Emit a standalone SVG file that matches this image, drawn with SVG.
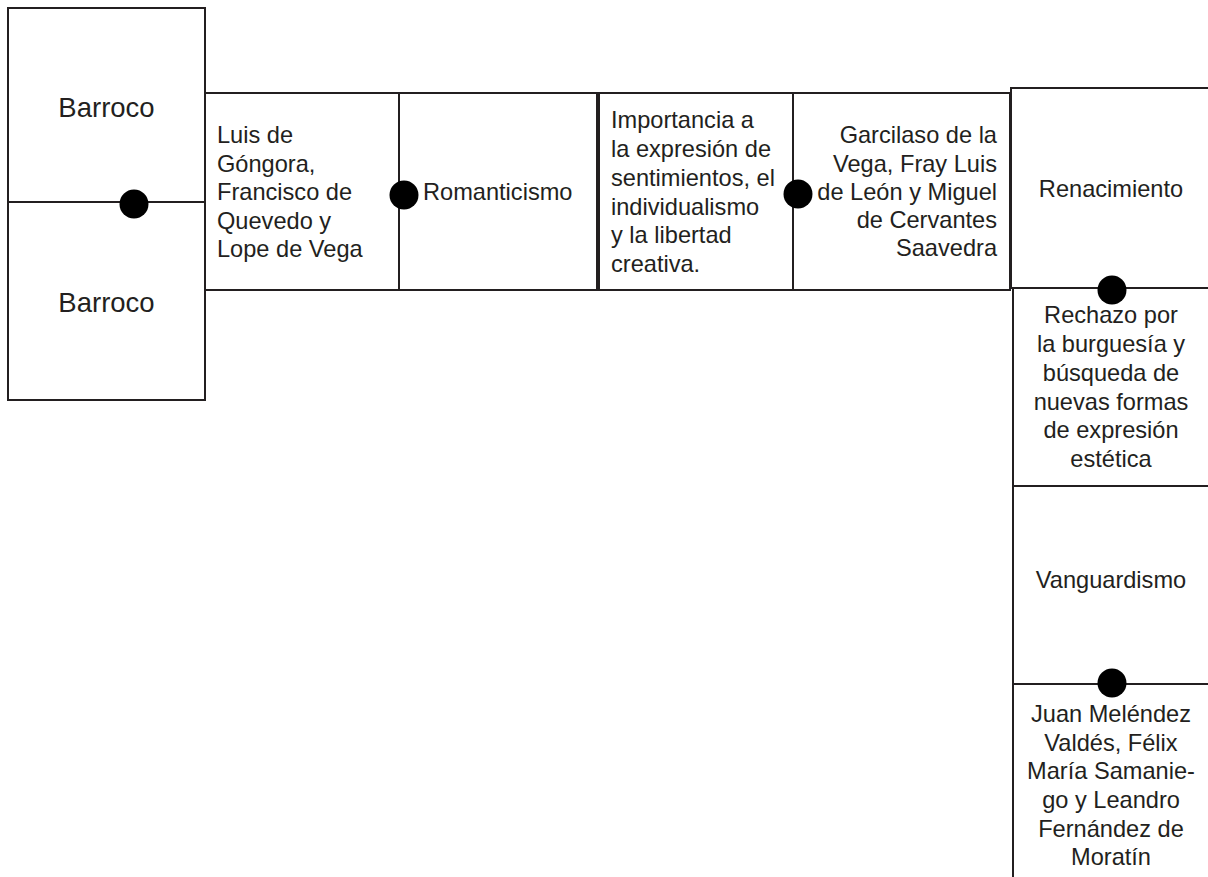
<svg xmlns="http://www.w3.org/2000/svg" width="1208" height="877" viewBox="0 0 1208 877">
<style>
.box{fill:#fff;stroke:#231f20;stroke-width:2}
.t{font-family:"Liberation Sans",Arial,sans-serif;font-size:23.6px;fill:#231f20}
.big{font-size:27.5px}
.c{text-anchor:middle}
.r{text-anchor:end}
.dot{fill:#000}
</style>
<rect width="1208" height="877" fill="#fff"/>
<g id="barroco1">
<rect class="box" x="8" y="8" width="197" height="194"/>
<text class="t big c" x="106.5" y="117">Barroco</text>
</g>
<g id="barroco2">
<rect class="box" x="8" y="202" width="197" height="198"/>
<text class="t big c" x="106.5" y="312">Barroco</text>
</g>
<g id="autores-barroco">
<rect class="box" x="205" y="93" width="194" height="197"/>
<text class="t" x="217" y="143">Luis de</text>
<text class="t" x="217" y="171.5">Góngora,</text>
<text class="t" x="217" y="200">Francisco de</text>
<text class="t" x="217" y="228.5">Quevedo y</text>
<text class="t" x="217" y="257">Lope de Vega</text>
</g>
<g id="romanticismo">
<rect class="box" x="399" y="93" width="198" height="197"/>
<text class="t" x="423" y="200">Romanticismo</text>
</g>
<g id="importancia">
<rect class="box" x="599" y="93" width="194" height="197"/>
<text class="t" x="611" y="128">Importancia a</text>
<text class="t" x="611" y="157">la expresión de</text>
<text class="t" x="611" y="186">sentimientos, el</text>
<text class="t" x="611" y="214.5">individualismo</text>
<text class="t" x="611" y="243">y la libertad</text>
<text class="t" x="611" y="272">creativa.</text>
</g>
<g id="autores-renacimiento">
<rect class="box" x="793" y="93" width="217" height="197"/>
<text class="t r" x="997" y="143">Garcilaso de la</text>
<text class="t r" x="997" y="171.5">Vega, Fray Luis</text>
<text class="t r" x="997" y="200">de León y Miguel</text>
<text class="t r" x="997" y="228">de Cervantes</text>
<text class="t r" x="997" y="256">Saavedra</text>
</g>
<g id="renacimiento">
<rect class="box" x="1011" y="88" width="210" height="200"/>
<text class="t c" x="1111" y="197">Renacimiento</text>
</g>
<g id="rechazo">
<rect class="box" x="1013" y="288" width="210" height="198"/>
<text class="t c" x="1111" y="323">Rechazo por</text>
<text class="t c" x="1111" y="352">la burguesía y</text>
<text class="t c" x="1111" y="381">búsqueda de</text>
<text class="t c" x="1111" y="409.5">nuevas formas</text>
<text class="t c" x="1111" y="438">de expresión</text>
<text class="t c" x="1111" y="466.5">estética</text>
</g>
<g id="vanguardismo">
<rect class="box" x="1013" y="486" width="210" height="198"/>
<text class="t c" x="1111" y="588">Vanguardismo</text>
</g>
<g id="autores-neoclasicismo">
<rect class="box" x="1013" y="684" width="210" height="210"/>
<text class="t c" x="1111" y="722">Juan Meléndez</text>
<text class="t c" x="1111" y="750.5">Valdés, Félix</text>
<text class="t c" x="1111" y="779">María Samanie-</text>
<text class="t c" x="1111" y="808">go y Leandro</text>
<text class="t c" x="1111" y="836.5">Fernández de</text>
<text class="t c" x="1111" y="865">Moratín</text>
</g>
<g id="connectors">
<circle class="dot" cx="134" cy="204" r="14.5"/>
<circle class="dot" cx="404" cy="195" r="14.5"/>
<circle class="dot" cx="798" cy="194" r="14.5"/>
<circle class="dot" cx="1112" cy="290" r="14.5"/>
<circle class="dot" cx="1112" cy="683" r="14.5"/>
</g>
</svg>
